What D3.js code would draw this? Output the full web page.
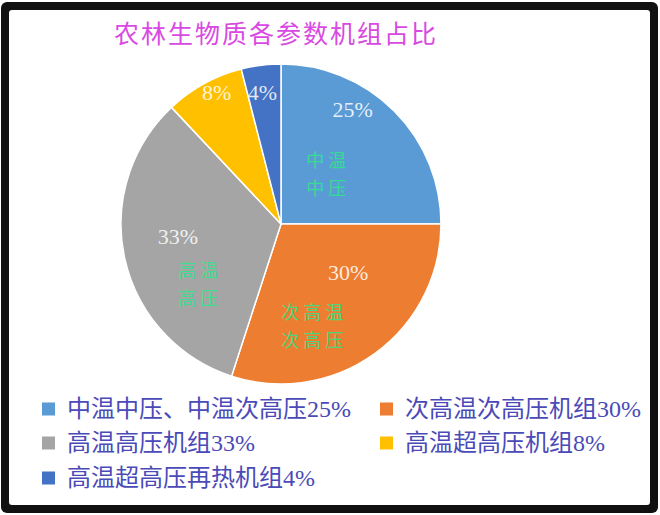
<!DOCTYPE html>
<html><head><meta charset="utf-8">
<script src="https://cdn.jsdelivr.net/npm/d3@7"></script>
<style>html,body{margin:0;padding:0;background:#fff;}svg{display:block;}</style>
</head><body>
<svg id="chart" width="660" height="515"></svg>
<script>
// ---- data ----
const title = "农林生物质各参数机组占比";
const categories = ["中温中压、中温次高压", "次高温次高压机组", "高温高压机组", "高温超高压机组", "高温超高压再热机组"];
const values = [25, 30, 33, 8, 4];
const sliceNames = [["中温", "中压"], ["次高温", "次高压"], ["高温", "高压"], [], []];
const colors = ["#5B9BD5", "#ED7D31", "#A5A5A5", "#FFC000", "#4472C4"];

// ---- layout (label placement in polar coords: degrees clockwise from top, radius px) ----
const pctLayout = [{a: 32, r: 135}, {a: 126, r: 83}, {a: 263, r: 104}, {a: -26, r: 147}, {a: -8, r: 133}];
const nameLayout = [{a: 44, r: 68}, {a: 162, r: 108}, {a: 233, r: 101}, null, null];

const svg = d3.select("#chart");
// frame
svg.append("rect").attr("x", 1).attr("y", 2).attr("width", 657).attr("height", 511).attr("rx", 6).attr("fill", "#111");
svg.append("rect").attr("x", 9).attr("y", 10).attr("width", 641).attr("height", 495).attr("rx", 3).attr("fill", "#fff");

svg.append("text").attr("x", 276).attr("y", 43).attr("text-anchor", "middle")
  .attr("font-family", "'Noto Sans CJK SC', sans-serif").attr("font-size", 25)
  .attr("fill", "#D84AE2").style("letter-spacing", "2px").text(title);

const cx = 281, cy = 224, R = 160;
const g = svg.append("g").attr("transform", `translate(${cx},${cy})`);
const pie = d3.pie().sort(null).value(d => d)(values);
const arc = d3.arc().innerRadius(0).outerRadius(R);
g.selectAll("path.slice").data(pie).join("path").attr("class", "slice")
  .attr("d", arc).attr("fill", (d, i) => colors[i]).attr("stroke", "#fff").attr("stroke-width", 1.5);

const pol = (p) => { const t = p.a * Math.PI / 180; return [p.r * Math.sin(t), -p.r * Math.cos(t)]; };
const total = d3.sum(values);
g.selectAll("text.pct").data(pie).join("text").attr("class", "pct")
  .attr("x", (d, i) => pol(pctLayout[i])[0]).attr("y", (d, i) => pol(pctLayout[i])[1])
  .attr("dy", "0.35em").attr("text-anchor", "middle")
  .attr("font-family", "'Liberation Serif', serif").attr("font-size", 22)
  .attr("fill", "#fff").attr("fill-opacity", 0.85)
  .text(d => Math.round(d.data / total * 100) + "%");

pie.forEach((d, i) => {
  if (!nameLayout[i]) return;
  const [x, y] = pol(nameLayout[i]);
  const lines = sliceNames[i];
  lines.forEach((ln, j) => {
    g.append("text").attr("x", x).attr("y", y + (j - (lines.length - 1) / 2) * 28)
      .attr("dy", "0.35em").attr("text-anchor", "middle")
      .attr("font-family", "'Noto Sans CJK SC', sans-serif").attr("font-size", 18)
      .style("letter-spacing", "4px")
      .attr("fill", "#2EE68A").attr("fill-opacity", 0.85).text(ln);
  });
});

// legend
const legPos = [[42, 409], [380, 409], [42, 443], [380, 443], [42, 478]];
const lg = svg.selectAll("g.leg").data(categories).join("g").attr("class", "leg")
  .attr("transform", (d, i) => `translate(${legPos[i][0]},${legPos[i][1]})`);
lg.append("rect").attr("x", 0).attr("y", -6.5).attr("width", 13).attr("height", 13).attr("fill", (d, i) => colors[i]);
lg.append("text").attr("x", 25).attr("dy", "0.35em")
  .attr("font-family", "'Liberation Serif', 'Noto Sans CJK SC', serif").attr("font-size", 24)
  .attr("fill", "#4A4AB8").text((d, i) => d + values[i] + "%");
</script>
</body></html>
